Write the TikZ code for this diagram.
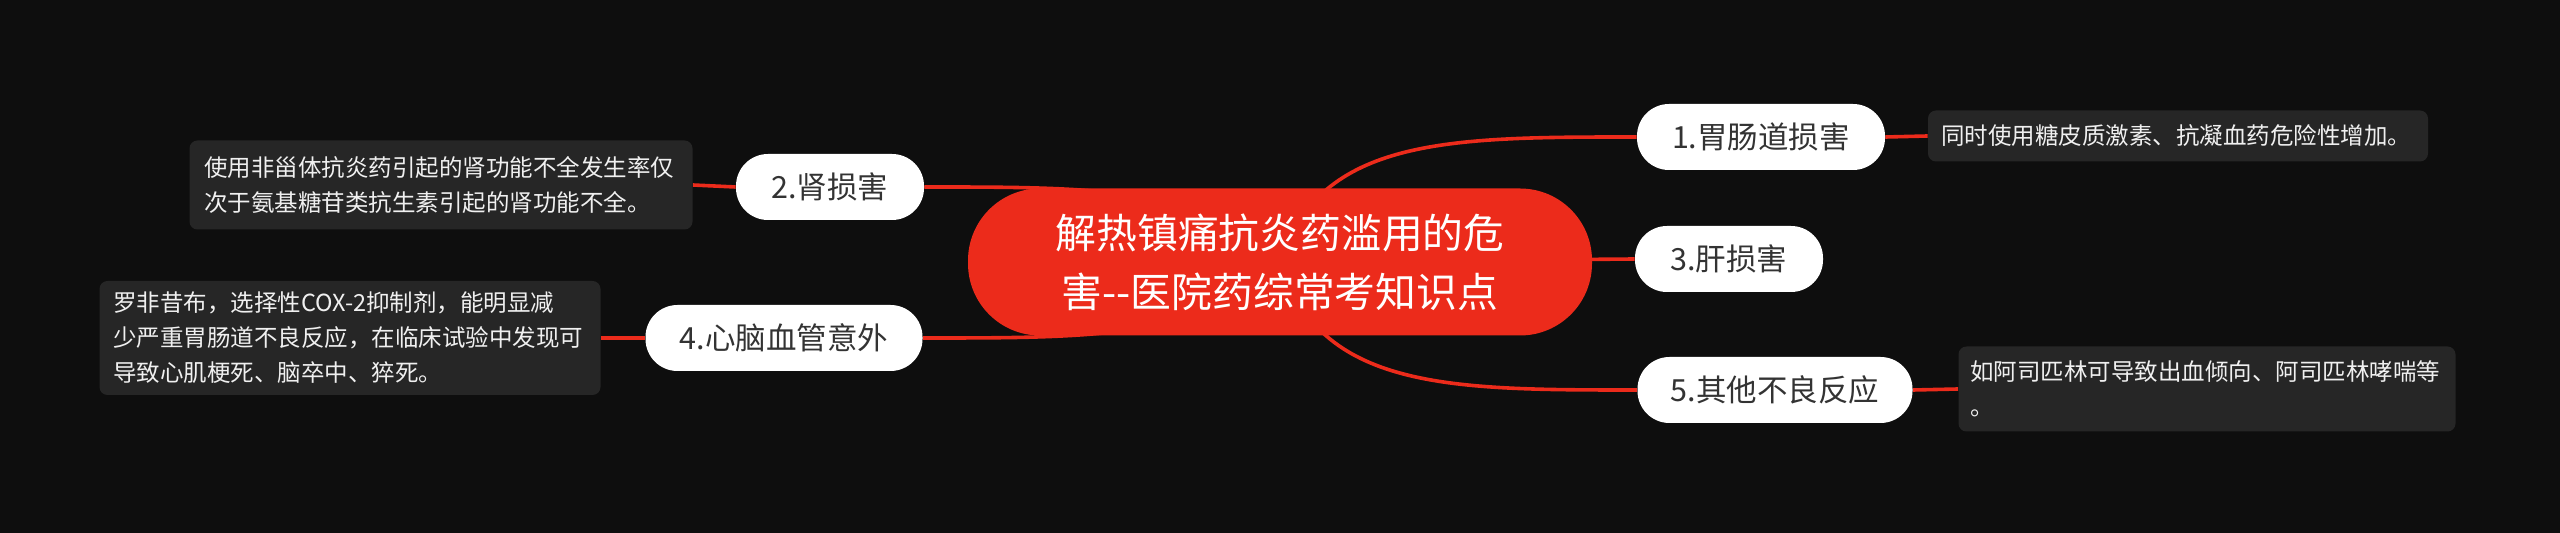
\documentclass[tikz,border=0pt]{standalone}
\usepackage{fontspec}
\setmainfont{Noto Sans CJK SC}
\definecolor{bgc}{HTML}{0E0E0E}
\definecolor{redc}{HTML}{EC2B1B}
\definecolor{boxc}{HTML}{262626}
\definecolor{txtdark}{HTML}{333333}
\pgfdeclarelayer{bglayer}
\pgfdeclarelayer{edgelayer}
\pgfsetlayers{bglayer,edgelayer,main}
\begin{document}
\begin{tikzpicture}[x=0.5pt,y=-0.5pt,
  centernode/.style={fill=redc, text=white, rounded corners=36pt, minimum width=312pt, minimum height=73.5pt, inner sep=0pt, align=center, font=\fontsize{20.4pt}{29.4pt}\selectfont},
  branch/.style={fill=white, text=txtdark, rounded corners=16pt, minimum height=33pt, inner sep=0pt, font=\fontsize{15.25pt}{18pt}\selectfont},
  detail/.style={fill=boxc, text=white!94!black, rounded corners=4pt, inner sep=0pt, align=left, text width=237pt, font=\fontsize{11.75pt}{17.5pt}\selectfont},
  link/.style={draw=redc, line width=1.8pt}]
\useasboundingbox (0,0) rectangle (2560,533);
\begin{pgfonlayer}{bglayer}
  \fill[bgc] (0,0) rectangle (2560,533);
\end{pgfonlayer}

\node[centernode] (c) at (1280,262) {解热镇痛抗炎药滥用的危\\害{-}{-}医院药综常考知识点};

\node[branch, minimum width=124pt] (n1) at (1761,137) {1.胃肠道损害};
\node[branch, minimum width=94pt] (n3) at (1729,259) {3.肝损害};
\node[branch, minimum width=137.5pt] (n5) at (1775,390) {5.其他不良反应};
\node[branch, minimum width=94pt] (n2) at (830,187) {2.肾损害};
\node[branch, minimum width=138.5pt] (n4) at (784,338) {4.心脑血管意外};

\node[detail, minimum width=250pt, minimum height=25.5pt] (d1) at (2178,136) {同时使用糖皮质激素、抗凝血药危险性增加。};
\node[detail, minimum width=251.5pt, minimum height=44.5pt] (d2) at (441,185) {使用非甾体抗炎药引起的肾功能不全发生率仅\\次于氨基糖苷类抗生素引起的肾功能不全。};
\node[detail, minimum width=250.5pt, minimum height=57pt] (d4) at (350,338) {罗非昔布，选择性COX-2抑制剂，能明显减\\少严重胃肠道不良反应，在临床试验中发现可\\导致心肌梗死、脑卒中、猝死。};
\node[detail, minimum width=248.5pt, minimum height=42.5pt] (d5) at (2207,389) {如阿司匹林可导致出血倾向、阿司匹林哮喘等\\。};

\begin{pgfonlayer}{edgelayer}
  \draw[link] (c.center) .. controls (1320,137) and (1450,137) .. (n1.west);
  \draw[link] (c.center) -- (n3.west);
  \draw[link] (c.center) .. controls (1320,390) and (1450,390) .. (n5.west);
  \draw[link] (c.center) .. controls (1200,187) and (1100,187) .. (n2.east);
  \draw[link] (c.center) .. controls (1200,338) and (1100,338) .. (n4.east);
  \draw[link] (n1.east) -- (d1.west);
  \draw[link] (n5.east) -- (d5.west);
  \draw[link] (n2.west) -- (d2.east);
  \draw[link] (n4.west) -- (d4.east);
\end{pgfonlayer}
\end{tikzpicture}
\end{document}
